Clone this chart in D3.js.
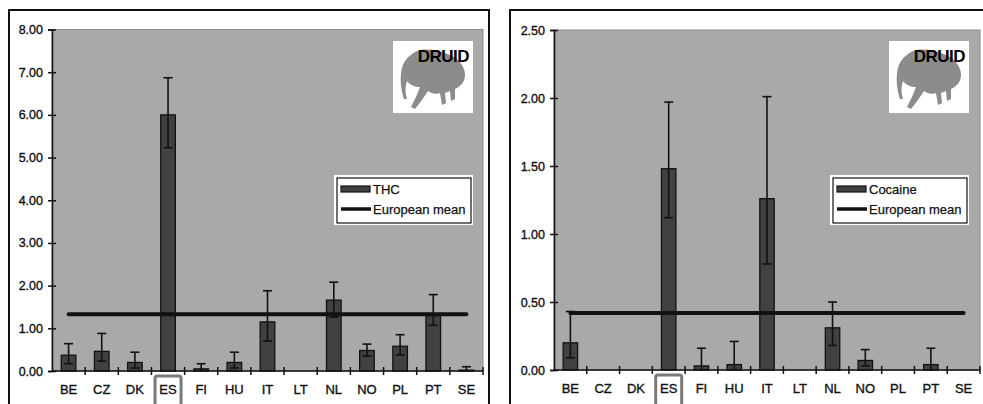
<!DOCTYPE html>
<html>
<head>
<meta charset="utf-8">
<script src="https://cdn.jsdelivr.net/npm/d3@7"></script>
<style>
  body { margin: 0; background: #fff; }
  svg { display: block; font-family: "Liberation Sans", Arial, sans-serif; }
</style>
</head>
<body>
<svg id="chart" width="983" height="404"></svg>
<script>
// countries on the x axis
var countries = ["BE", "CZ", "DK", "ES", "FI", "HU", "IT", "LT", "NL", "NO", "PL", "PT", "SE"];

// THC panel: bar values, lower and upper error limits (null = no cap)
var thcValues = [0.37, 0.46, 0.20, 6.00, 0.05, 0.20, 1.15, 0, 1.66, 0.48, 0.58, 1.30, 0.02];
var thcLow    = [0.17, 0.23, 0.07, 5.23, null, 0.07, 0.70, null, 1.26, 0.35, 0.38, 1.07, null];
var thcHigh   = [0.64, 0.88, 0.44, 6.87, 0.17, 0.44, 1.88, null, 2.08, 0.63, 0.85, 1.79, 0.10];
var thcMean = 1.33;
var thcTicks = [0, 1, 2, 3, 4, 5, 6, 7, 8];

// Cocaine panel
var cocaineValues = [0.20, 0, 0, 1.48, 0.03, 0.04, 1.26, 0, 0.31, 0.07, 0, 0.04, 0];
var cocaineLow    = [0.09, null, null, 1.12, null, null, 0.78, null, 0.18, 0.03, null, null, null];
var cocaineHigh   = [0.43, null, null, 1.97, 0.16, 0.21, 2.01, null, 0.50, 0.15, null, 0.16, null];
var cocaineMean = 0.42;
var cocaineTicks = [0, 0.5, 1, 1.5, 2, 2.5];

var svg = d3.select("#chart");

// halftone dot pattern for the logo
var defs = svg.append("defs");
var pat = defs.append("pattern")
  .attr("id", "dots")
  .attr("width", 2).attr("height", 2)
  .attr("patternUnits", "userSpaceOnUse")
  .attr("patternTransform", "rotate(45)");
pat.append("circle").attr("cx", 1).attr("cy", 1).attr("r", 0.9).attr("fill", "#555");

function drawPanel(cfg) {
  var g = svg.append("g");

  // panel frame
  g.append("rect")
    .attr("x", cfg.frame[0]).attr("y", cfg.frame[1])
    .attr("width", cfg.frame[2] - cfg.frame[0]).attr("height", 420)
    .attr("fill", "#fff").attr("stroke", "#111").attr("stroke-width", 2);

  var x = d3.scaleBand().domain(countries).range([cfg.left, cfg.right]);
  var y = d3.scaleLinear().domain([0, cfg.max]).range([cfg.bottom, cfg.top]);

  // plot background
  g.append("rect")
    .attr("x", cfg.left).attr("y", cfg.top)
    .attr("width", cfg.right - cfg.left).attr("height", cfg.bottom - cfg.top)
    .attr("fill", "#a9a9a9").attr("stroke", "#8a8a8a").attr("stroke-width", 1);

  var data = countries.map(function(c, i) {
    return { c: c, v: cfg.values[i], lo: cfg.low[i], hi: cfg.high[i] };
  });

  var bw = x.bandwidth() * 0.44;

  // bars
  g.selectAll(".bar")
    .data(data.filter(function(d) { return d.v > 0; }))
    .join("rect")
    .attr("class", "bar")
    .attr("x", function(d) { return x(d.c) + (x.bandwidth() - bw) / 2; })
    .attr("y", function(d) { return y(d.v); })
    .attr("width", bw)
    .attr("height", function(d) { return y(0) - y(d.v); })
    .attr("fill", "#414141")
    .attr("stroke", "#111")
    .attr("stroke-width", 1.3);

  // error bars
  var eb = g.selectAll(".err")
    .data(data.filter(function(d) { return d.hi != null; }))
    .join("g")
    .attr("class", "err")
    .attr("stroke", "#111")
    .attr("stroke-width", 1.6);
  var cx = function(d) { return x(d.c) + x.bandwidth() / 2; };
  eb.append("line")
    .attr("x1", cx).attr("x2", cx)
    .attr("y1", function(d) { return y(d.hi); })
    .attr("y2", function(d) { return y(d.lo != null ? d.lo : 0); });
  eb.append("line")
    .attr("x1", function(d) { return cx(d) - 4.5; })
    .attr("x2", function(d) { return cx(d) + 4.5; })
    .attr("y1", function(d) { return y(d.hi); })
    .attr("y2", function(d) { return y(d.hi); });
  eb.filter(function(d) { return d.lo != null; })
    .append("line")
    .attr("x1", function(d) { return cx(d) - 4.5; })
    .attr("x2", function(d) { return cx(d) + 4.5; })
    .attr("y1", function(d) { return y(d.lo); })
    .attr("y2", function(d) { return y(d.lo); });

  // European mean line
  g.append("line")
    .attr("x1", cx(data[0])).attr("x2", cx(data[data.length - 1]))
    .attr("y1", y(cfg.mean)).attr("y2", y(cfg.mean))
    .attr("stroke", "#111").attr("stroke-width", 4).attr("stroke-linecap", "round");

  // y axis
  var ya = g.append("g")
    .attr("transform", "translate(" + cfg.left + ",0)")
    .call(d3.axisLeft(y).tickValues(cfg.ticks).tickFormat(d3.format(".2f")).tickSize(4).tickPadding(5));
  ya.select(".domain").attr("stroke", "#111").attr("stroke-width", 1.5);
  ya.selectAll(".tick line").attr("stroke", "#111").attr("stroke-width", 1.5).attr("x2", 4).attr("x1", -4);
  ya.selectAll(".tick text").attr("font-size", 12.5).attr("fill", "#111")
    .attr("stroke", "#111").attr("stroke-width", 0.35)
    .attr("font-family", "Liberation Sans, Arial, sans-serif");

  // x axis: line, ticks at band edges, labels
  g.append("line")
    .attr("x1", cfg.left).attr("x2", cfg.right)
    .attr("y1", y(0)).attr("y2", y(0))
    .attr("stroke", "#111").attr("stroke-width", 1.5);
  var edges = countries.map(function(c) { return x(c) + x.bandwidth(); });
  g.selectAll(".xtick")
    .data(edges)
    .join("line")
    .attr("class", "xtick")
    .attr("x1", function(d) { return d; }).attr("x2", function(d) { return d; })
    .attr("y1", y(0) - 4).attr("y2", y(0) + 4)
    .attr("stroke", "#111").attr("stroke-width", 1.5);
  g.selectAll(".xlab")
    .data(countries)
    .join("text")
    .attr("class", "xlab")
    .attr("x", function(d) { return x(d) + x.bandwidth() / 2; })
    .attr("y", cfg.bottom + 23)
    .attr("text-anchor", "middle")
    .attr("font-size", 13)
    .attr("fill", "#111")
    .attr("stroke", "#111").attr("stroke-width", 0.35)
    .text(function(d) { return d; });

  // highlight box around ES
  g.append("rect")
    .attr("x", x("ES") + x.bandwidth() / 2 - 13).attr("y", cfg.bottom + 5)
    .attr("width", 26).attr("height", 40)
    .attr("rx", 2)
    .attr("fill", "none").attr("stroke", "#7a7a7a").attr("stroke-width", 3);

  // legend
  var lg = g.append("g").attr("transform", "translate(" + cfg.legend[0] + "," + cfg.legend[1] + ")");
  lg.append("rect").attr("x", 0).attr("y", 0).attr("width", 139).attr("height", 50).attr("fill", "#fff");
  lg.append("rect").attr("x", 3).attr("y", 3).attr("width", 134).attr("height", 45)
    .attr("fill", "none").attr("stroke", "#111").attr("stroke-width", 1.2);
  lg.append("rect").attr("x", 7).attr("y", 11).attr("width", 29).attr("height", 6)
    .attr("fill", "#414141").attr("stroke", "#111").attr("stroke-width", 1.2);
  lg.append("text").attr("x", 39).attr("y", 19).attr("font-size", 13).attr("fill", "#111")
    .attr("stroke", "#111").attr("stroke-width", 0.25).text(cfg.name);
  lg.append("line").attr("x1", 7).attr("x2", 37).attr("y1", 34).attr("y2", 34)
    .attr("stroke", "#111").attr("stroke-width", 3.5);
  lg.append("text").attr("x", 39).attr("y", 39).attr("font-size", 13).attr("fill", "#111")
    .attr("stroke", "#111").attr("stroke-width", 0.25).text("European mean");

  // DRUID logo
  var lo = g.append("g").attr("transform", "translate(" + cfg.logo[0] + "," + cfg.logo[1] + ")");
  lo.append("rect").attr("width", 80).attr("height", 72).attr("fill", "#fff");
  lo.append("path")
    .attr("d", "M18,14 C26,6 40,8 52,12 C64,16 72,24 72,34 C72,42 66,46 62,48 L62,58 L58,60 L57,50 L52,52 L53,62 L49,64 L47,52 C42,54 38,52 35,50 C31,56 27,62 22,68 L18,66 C22,58 25,52 27,46 C22,46 17,44 14,40 C12,46 12,52 14,58 L11,58 C8,50 7,40 8,32 C9,24 12,18 18,14 Z")
    .attr("fill", "url(#dots)");
  lo.append("text").attr("x", 76).attr("y", 21).attr("text-anchor", "end")
    .attr("font-size", 17).attr("font-weight", "bold").attr("fill", "#000")
    .attr("letter-spacing", -0.5).text("DRUID");
}

drawPanel({
  name: "THC", values: thcValues, low: thcLow, high: thcHigh, mean: thcMean,
  ticks: thcTicks, max: 8,
  frame: [9, 10, 489], left: 52, right: 483, top: 29.5, bottom: 371,
  legend: [334, 175], logo: [393, 41]
});

drawPanel({
  name: "Cocaine", values: cocaineValues, low: cocaineLow, high: cocaineHigh, mean: cocaineMean,
  ticks: cocaineTicks, max: 2.5,
  frame: [510, 10, 995], left: 554, right: 980, top: 30, bottom: 370,
  legend: [830, 175], logo: [889, 41]
});
</script>
</body>
</html>
